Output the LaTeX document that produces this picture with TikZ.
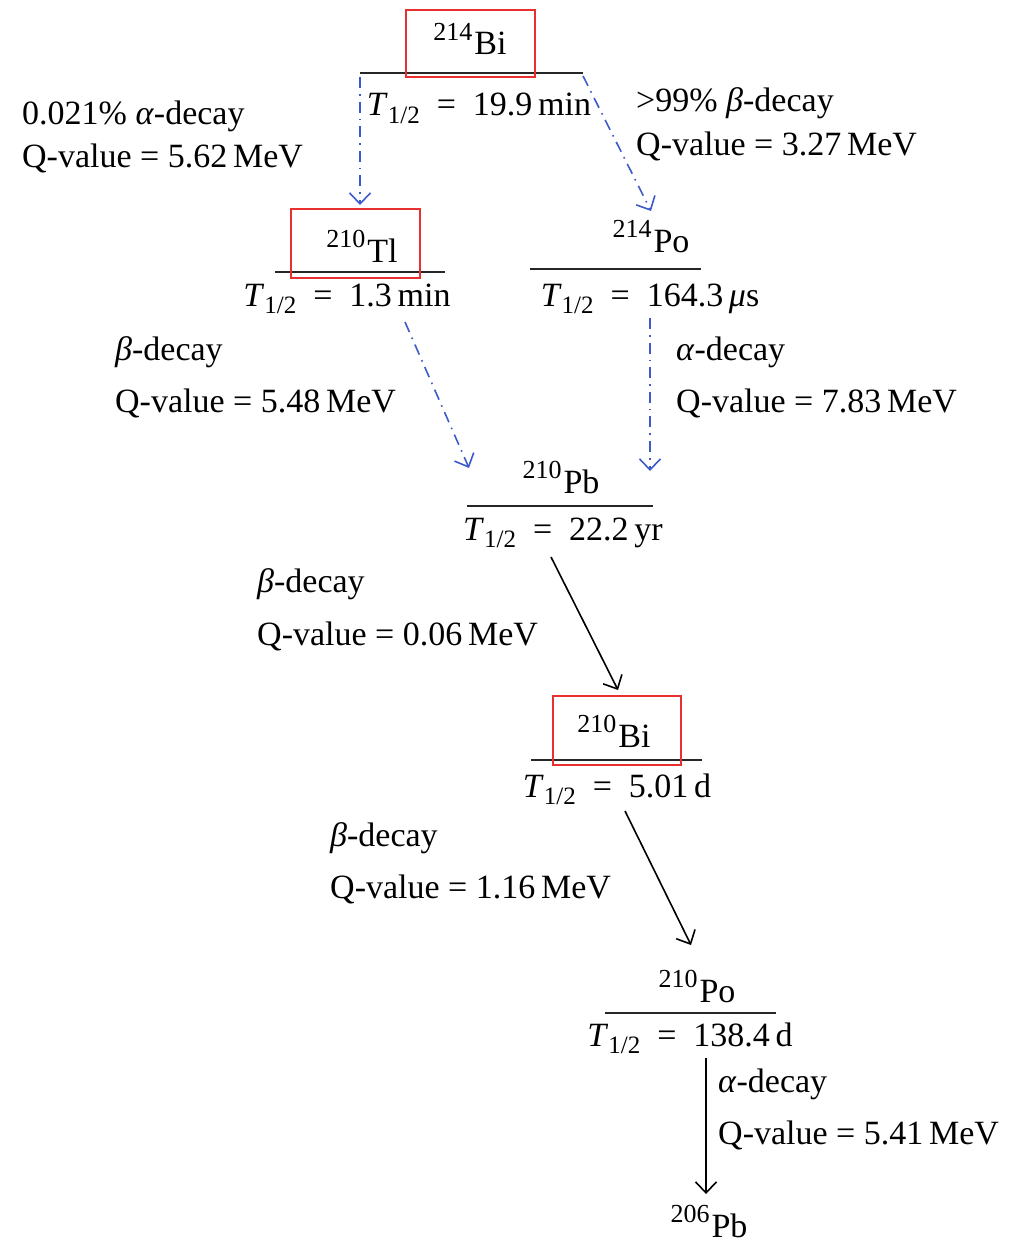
\documentclass[tikz,border=0pt]{standalone}
\usepackage{fontspec}
\setmainfont{Liberation Serif}
\usetikzlibrary{arrows.meta}
\definecolor{dblue}{RGB}{60,90,200}
\definecolor{boxred}{RGB}{232,48,48}
\newcommand\sups[1]{\raisebox{0.42em}{\fontsize{26}{30}\selectfont #1}\kern2pt}
\newcommand\thalf{\textit{T}\raisebox{-0.22em}{\fontsize{25}{28}\selectfont 1/2}\ \ =\ \ }
\begin{document}
\begin{tikzpicture}[x=1pt,y=-1pt,
  txt/.style={font=\fontsize{34}{40}\selectfont, inner sep=0pt},
  lbl/.style={txt, anchor=base west},
  nuc/.style={txt, anchor=base},
  levelline/.style={line width=2.4pt, draw=black!85},
  redbox/.style={draw=boxred, line width=1.8pt},
  decay/.style={line width=1.6pt, -{Straight Barb[length=11pt,width=21pt]}},
  weak/.style={decay, draw=dblue, dash pattern=on 11pt off 6pt on 1.6pt off 6pt}]
\useasboundingbox (0,0) rectangle (1014,1257);

% 214Bi
\node[nuc] (bi214) at (470,55) {\sups{214}Bi};
\draw[levelline] (360,73) -- (583,73);
\draw[redbox] (406,10) rectangle (535,77);
\node[nuc] (bi214t) at (479,116) {\thalf 19.9\,min};

% left branch label
\node[lbl] (l1a) at (22,125) {0.021\% \textit{α}-decay};
\node[lbl] (l1b) at (22,168) {Q-value = 5.62\,MeV};
% right branch label
\node[lbl] (r1a) at (636,112) {>99\% \textit{β}-decay};
\node[lbl] (r1b) at (636,156) {Q-value = 3.27\,MeV};

% 210Tl
\node[nuc] (tl210) at (362,262) {\sups{210}Tl};
\draw[levelline] (275,272) -- (445,272);
\draw[redbox] (291,209) rectangle (420,278);
\node[nuc] (tl210t) at (347,306) {\thalf 1.3\,min};

% 214Po
\node[nuc] (po214) at (651,252) {\sups{214}Po};
\draw[levelline] (530,269) -- (701,269);
\node[nuc] (po214t) at (650,306) {\thalf 164.3\,\textit{μ}s};

\node[lbl] (l2a) at (115,360) {\textit{β}-decay};
\node[lbl] (l2b) at (115,412) {Q-value = 5.48\,MeV};
\node[lbl] (r2a) at (676,360) {\textit{α}-decay};
\node[lbl] (r2b) at (676,412) {Q-value = 7.83\,MeV};

% 210Pb
\node[nuc] (pb210) at (561,493) {\sups{210}Pb};
\draw[levelline] (467,506) -- (653,506);
\node[nuc] (pb210t) at (563,540) {\thalf 22.2\,yr};

\node[lbl] (l3a) at (257,592) {\textit{β}-decay};
\node[lbl] (l3b) at (257,645) {Q-value = 0.06\,MeV};

% 210Bi
\node[nuc] (bi210) at (614,747) {\sups{210}Bi};
\draw[levelline] (531,760) -- (702,760);
\draw[redbox] (553,696) rectangle (681,765);
\node[nuc] (bi210t) at (617,797) {\thalf 5.01\,d};

\node[lbl] (l4a) at (330,846) {\textit{β}-decay};
\node[lbl] (l4b) at (330,898) {Q-value = 1.16\,MeV};

% 210Po
\node[nuc] (po210) at (697,1002) {\sups{210}Po};
\draw[levelline] (605,1013) -- (776,1013);
\node[nuc] (po210t) at (690,1046) {\thalf 138.4\,d};

\node[lbl] (r5a) at (718,1092) {\textit{α}-decay};
\node[lbl] (r5b) at (718,1144) {Q-value = 5.41\,MeV};

% 206Pb
\node[nuc] (pb206) at (709,1237) {\sups{206}Pb};

% connectors
\coordinate (c1s) at (360,77);  \coordinate (c1e) at (360,205);
\coordinate (c2s) at (583,76);  \coordinate (c2e) at (651,211);
\coordinate (c3s) at (405,322); \coordinate (c3e) at (469,468);
\coordinate (c4s) at (650,318); \coordinate (c4e) at (650,471);
\coordinate (c5s) at (551,557); \coordinate (c5e) at (618,690);
\coordinate (c6s) at (625,811); \coordinate (c6e) at (691,945);
\coordinate (c7s) at (706,1058); \coordinate (c7e) at (706,1194);
\draw[weak] (c1s) -- (c1e);
\draw[weak] (c2s) -- (c2e);
\draw[weak] (c3s) -- (c3e);
\draw[weak] (c4s) -- (c4e);
\draw[decay] (c5s) -- (c5e);
\draw[decay] (c6s) -- (c6e);
\draw[decay] (c7s) -- (c7e);
\end{tikzpicture}
\end{document}
